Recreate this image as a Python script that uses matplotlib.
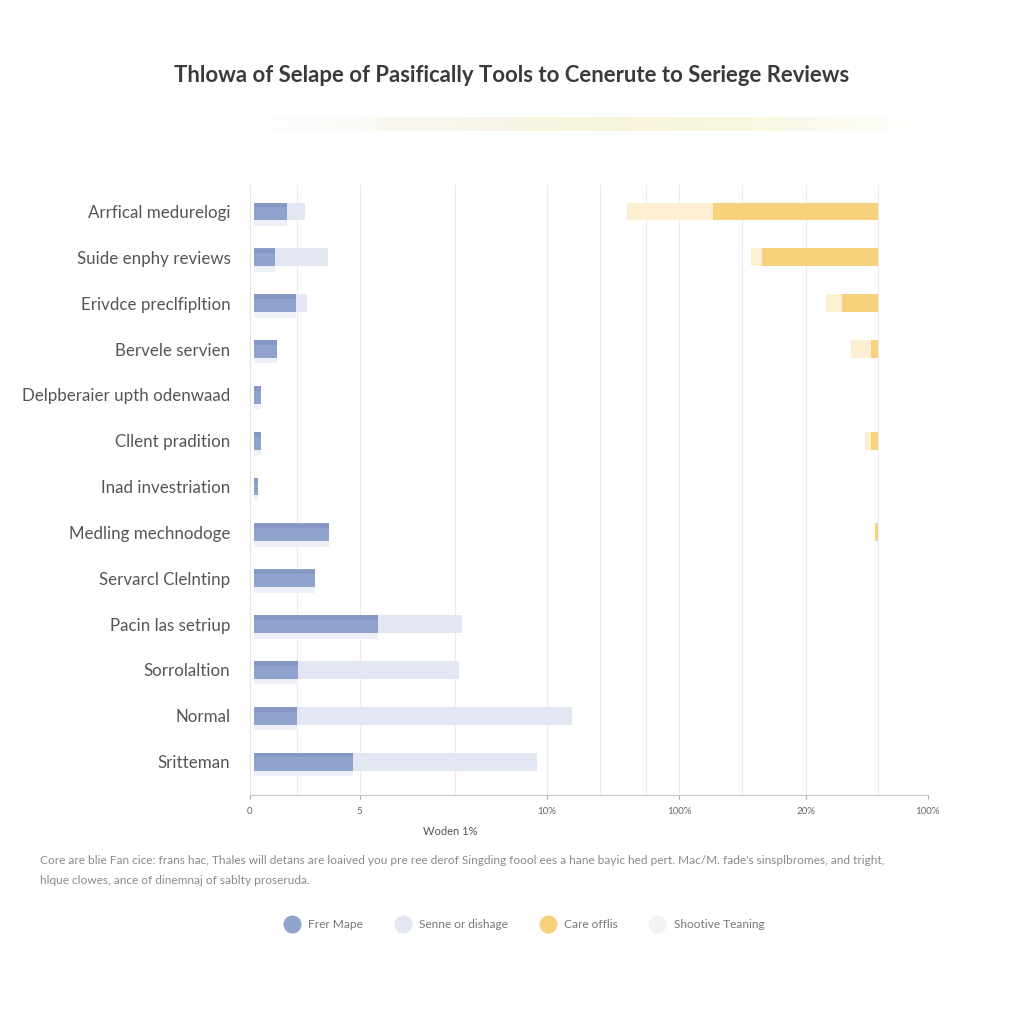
import matplotlib.pyplot as plt
import numpy as np
from matplotlib.lines import Line2D

# -----------------------------------
# Data
# -----------------------------------
categories = [
    "Arrfical medurelogi", "Suide enphy reviews", "Erivdce preclfipltion",
    "Bervele servien", "Delpberaier upth odenwaad", "Cllent pradition",
    "Inad investriation", "Medling mechnodoge", "Servarcl Clelntinp",
    "Pacin las setriup", "Sorrolaltion", "Normal", "Sritteman",
]
frer_mape = [4.9, 3.1, 6.2, 3.4, 1.0, 1.0, 0.6, 11.1, 9.0, 18.3, 6.5, 6.3, 14.6]
senne_dishage = [2.7, 7.8, 1.6, 0, 0, 0, 0, 0, 0, 12.4, 23.7, 40.6, 27.1]
care_offlis = [24.3, 17.1, 5.2, 1.0, 0, 0.9, 0, 0.4, 0, 0, 0, 0, 0]
shootive = [12.7, 1.5, 2.4, 2.9, 0, 0.9, 0, 0, 0, 0, 0, 0, 0]

tick_pos = [0, 16.2, 43.8, 63.3, 82.0, 100]
tick_labels = ["0", "5", "10%", "100%", "20%", "100%"]
grid_pos = [7.0, 16.2, 30.2, 43.8, 51.6, 58.4, 63.3, 72.6, 82.0, 92.6, 100]

legend_labels = ["Frer Mape", "Senne or dishage", "Care offlis", "Shootive Teaning"]

title = "Thlowa of Selape of Pasifically Tools to Cenerute to Seriege Reviews"
note = ("Core are blie Fan cice: frans hac, Thales will detans are loaived you pre ree derof "
        "Singding foool ees a hane bayic hed pert. Mac/M. fade's sinsplbromes, and tright,\n"
        "hlque clowes, ance of dinemnaj of sablty proseruda.")

# -----------------------------------
# Style
# -----------------------------------
plt.rcParams['font.family'] = ['Lato', 'DejaVu Sans']
c_dark = "#90a3cc"
c_light = "#e2e7f3"
c_gold = "#f6d27c"
c_pale = "#fcefd2"
c_ghost = "#f3f3f5"
anchor = 92.6   # right edge of the gold bars
inset = 0.6     # blue bars start just right of the axis

fig = plt.figure(figsize=(10.24, 10.24), dpi=100)
ax = fig.add_axes([0.244, 0.224, 0.662, 0.595])

y = np.arange(len(categories))
h = 0.39
dark = np.array(frer_mape)

# faint shadow under the blue bars, darker top edge
ax.barh(y + 0.12, dark, left=inset, height=h, color="#eef0f7", zorder=2)
ax.barh(y, dark, left=inset, height=h, color=c_dark, zorder=3)
ax.barh(y - 0.14, dark, left=inset, height=0.1, color="#8598c5", zorder=4)
ax.barh(y, senne_dishage, left=inset + dark, height=h, color=c_light, zorder=3)

gold = np.array(care_offlis)
ax.barh(y, gold, left=anchor - gold, height=h, color=c_gold, zorder=3)
ax.barh(y, shootive, left=anchor - gold - np.array(shootive), height=h,
        color=c_pale, zorder=3)

for g in grid_pos:
    ax.axvline(g, color="#ececef", lw=0.9, zorder=0)

ax.set_xlim(0, 100)
ax.set_ylim(12.72, -0.57)
ax.set_yticks(y)
ax.set_yticklabels(categories, fontsize=12.2, color="#555555")
ax.tick_params(axis="y", length=0, pad=14)
ax.set_xticks(tick_pos)
ax.set_xticklabels(tick_labels, fontsize=7, color="#666666")
ax.tick_params(axis="x", length=3, color="#aaaaaa", pad=6)

for s in ["top", "right"]:
    ax.spines[s].set_visible(False)
ax.spines["left"].set_color("#e4e4e8")
ax.spines["bottom"].set_color("#c8c8cc")

fig.text(0.44, 0.185, "Woden 1%", fontsize=8, color="#555555", ha="center")

# -----------------------------------
# Title + decorative band
# -----------------------------------
fig.text(0.5, 0.926, title, fontsize=15.9, fontweight="bold", color="#3a3a3a",
         ha="center", va="center")
band = fig.add_axes([0.244, 0.872, 0.65, 0.014])
grad = np.linspace(0, 1, 300)
rgb = np.ones((1, 300, 4))
rgb[0, :, 0] = 0.97
rgb[0, :, 1] = 0.955
rgb[0, :, 2] = 0.94 - 0.15 * grad
rgb[0, :, 3] = np.clip(np.sin(np.pi * grad), 0, 1) * 0.9
band.imshow(rgb, aspect="auto")
band.axis("off")

fig.text(0.039, 0.150, note, fontsize=8.6, color="#8a8a8a", linespacing=2.0, va="center")

# -----------------------------------
# Legend
# -----------------------------------
handles = [Line2D([], [], marker="o", ls="", markersize=12, color=c)
           for c in [c_dark, c_light, c_gold, c_ghost]]
fig.legend(handles, legend_labels, loc="center", bbox_to_anchor=(0.51, 0.097),
           ncol=4, frameon=False, fontsize=8.6, labelcolor="#777777",
           handletextpad=0.4, columnspacing=2.3)

fig.savefig("out.png", dpi=100, facecolor="white")
